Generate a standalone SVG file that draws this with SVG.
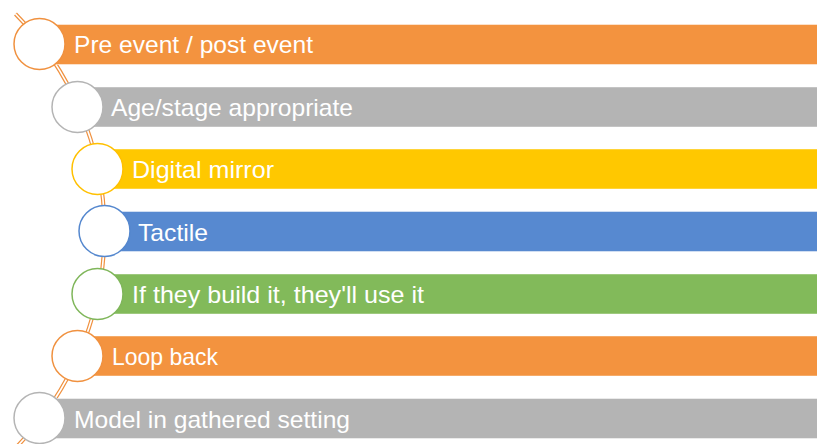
<svg xmlns="http://www.w3.org/2000/svg" width="817" height="444" viewBox="0 0 817 444">
  <style>
    .bar { stroke: #ffffff; stroke-opacity: 0.45; stroke-width: 1; }
    .dot { fill: #ffffff; stroke-width: 1.5; }
    .lbl { font-family: "Liberation Sans", Arial, sans-serif; font-size: 24px; fill: #ffffff; }
    .orange { fill: #F3933F; }
    .gray { fill: #B4B4B4; }
    .yellow { fill: #FFC800; }
    .blue { fill: #5789D0; }
    .green { fill: #82BA5A; }
  </style>
  <rect width="817" height="444" fill="#ffffff"/>
  <g id="connectors">
    <path d="M 15.5 14 A 309 309 0 0 1 15.5 448" fill="none" stroke="#F0913F" stroke-width="4"/>
    <path d="M 15.5 14 A 309 309 0 0 1 15.5 448" fill="none" stroke="#ffffff" stroke-width="1.6"/>
  </g>
  <g id="node1">
    <rect class="bar orange" x="39" y="24.5" width="790" height="40"/>
    <circle class="dot" cx="39.5" cy="44" r="25.5" stroke="#F0913F"/>
    <text class="lbl" x="74" y="53" textLength="239" lengthAdjust="spacingAndGlyphs">Pre event / post event</text>
  </g>
  <g id="node2">
    <rect class="bar gray" x="77" y="87" width="752" height="40"/>
    <circle class="dot" cx="77.5" cy="107" r="25.5" stroke="#B4B4B4"/>
    <text class="lbl" x="111" y="115.5" textLength="242" lengthAdjust="spacingAndGlyphs">Age/stage appropriate</text>
  </g>
  <g id="node3">
    <rect class="bar yellow" x="97" y="149" width="732" height="40"/>
    <circle class="dot" cx="97.5" cy="169" r="25.5" stroke="#FFC000"/>
    <text class="lbl" x="132" y="178" textLength="142" lengthAdjust="spacingAndGlyphs">Digital mirror</text>
  </g>
  <g id="node4">
    <rect class="bar blue" x="104" y="211.5" width="725" height="40"/>
    <circle class="dot" cx="104.5" cy="231" r="25.5" stroke="#5487CE"/>
    <text class="lbl" x="138" y="240.5" textLength="70" lengthAdjust="spacingAndGlyphs">Tactile</text>
  </g>
  <g id="node5">
    <rect class="bar green" x="97" y="274" width="732" height="40"/>
    <circle class="dot" cx="97.5" cy="294" r="25.5" stroke="#7FB65A"/>
    <text class="lbl" x="132" y="302.5" textLength="292" lengthAdjust="spacingAndGlyphs">If they build it, they'll use it</text>
  </g>
  <g id="node6">
    <rect class="bar orange" x="77" y="336" width="752" height="40"/>
    <circle class="dot" cx="77.5" cy="356" r="25.5" stroke="#F0913F"/>
    <text class="lbl" x="112" y="365" textLength="106" lengthAdjust="spacingAndGlyphs">Loop back</text>
  </g>
  <g id="node7">
    <rect class="bar gray" x="39" y="398.5" width="790" height="40"/>
    <circle class="dot" cx="39.5" cy="418" r="25.5" stroke="#B4B4B4"/>
    <text class="lbl" x="74" y="428" textLength="276" lengthAdjust="spacingAndGlyphs">Model in gathered setting</text>
  </g>
</svg>
